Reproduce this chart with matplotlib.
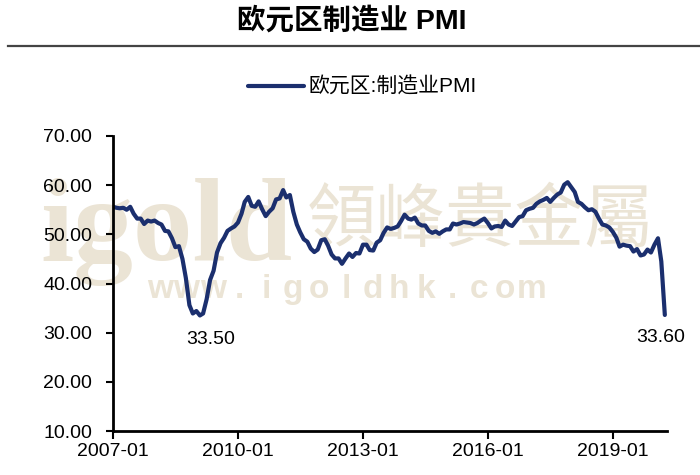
import matplotlib
matplotlib.use('Agg')
import matplotlib.pyplot as plt
import numpy as np
import pandas as pd

# Eurozone manufacturing PMI, monthly, 2007-01 .. 2020-04
pmi_2007 = [55.6, 55.4, 55.3, 55.4, 55.0, 55.6, 54.2, 53.2, 53.2, 52.1, 52.8, 52.6]
pmi_2008 = [52.8, 52.3, 52.0, 50.7, 50.6, 49.2, 47.4, 47.6, 45.0, 41.1, 35.6, 33.9]
pmi_2009 = [34.4, 33.5, 33.9, 36.8, 40.7, 42.6, 46.3, 48.2, 49.3, 50.7, 51.2, 51.6]
pmi_2010 = [52.4, 54.2, 56.6, 57.6, 55.8, 55.6, 56.7, 55.1, 53.7, 54.6, 55.3, 57.1]
pmi_2011 = [57.3, 59.0, 57.5, 58.0, 54.6, 52.0, 50.4, 49.0, 48.5, 47.1, 46.4, 46.9]
pmi_2012 = [48.8, 49.0, 47.7, 45.9, 45.1, 45.1, 44.0, 45.1, 46.1, 45.4, 46.2, 46.1]
pmi_2013 = [47.9, 47.9, 46.8, 46.7, 48.3, 48.8, 50.3, 51.4, 51.1, 51.3, 51.6, 52.7]
pmi_2014 = [54.0, 53.2, 53.0, 53.4, 52.2, 51.8, 51.8, 50.7, 50.3, 50.6, 50.1, 50.6]
pmi_2015 = [51.0, 51.0, 52.2, 52.0, 52.2, 52.5, 52.4, 52.3, 52.0, 52.3, 52.8, 53.2]
pmi_2016 = [52.3, 51.2, 51.6, 51.7, 51.5, 52.8, 52.0, 51.7, 52.6, 53.5, 53.7, 54.9]
pmi_2017 = [55.2, 55.4, 56.2, 56.7, 57.0, 57.4, 56.6, 57.4, 58.1, 58.5, 60.1, 60.6]
pmi_2018 = [59.6, 58.6, 56.6, 56.2, 55.5, 54.9, 55.1, 54.6, 53.2, 52.0, 51.8, 51.4]
pmi_2019 = [50.5, 49.3, 47.5, 47.9, 47.7, 47.6, 46.5, 47.0, 45.7, 45.9, 46.9, 46.3]
pmi_2020 = [47.9, 49.2, 44.5, 33.6]

pmi = (pmi_2007 + pmi_2008 + pmi_2009 + pmi_2010 + pmi_2011 + pmi_2012 + pmi_2013
       + pmi_2014 + pmi_2015 + pmi_2016 + pmi_2017 + pmi_2018 + pmi_2019 + pmi_2020)
months = pd.date_range('2007-01-01', periods=len(pmi), freq='MS')

x_ticks = ['2007-01', '2010-01', '2013-01', '2016-01', '2019-01']
y_ticks = [10, 20, 30, 40, 50, 60, 70]

title = '欧元区制造业 PMI'
series_name = '欧元区:制造业PMI'

line_color = '#1b2f6e'
mark_color = '#ebe4d5'
cn_fonts = ['Liberation Sans', 'Noto Sans CJK SC']

plt.rcParams['font.family'] = cn_fonts

fig = plt.figure(figsize=(7, 4.75), dpi=100)
ax = fig.add_axes([113 / 700, 1 - 431 / 475, (667 - 113) / 700, (431 - 136) / 475])

# title and rule
fig.text(352 / 700, 1 - 21 / 475, title, ha='center', va='center',
         fontsize=20.5, fontweight='bold', family=cn_fonts)
fig.add_artist(plt.Line2D([8 / 700, 1.0], [1 - 45.7 / 475] * 2,
                          transform=fig.transFigure, color='#444444', lw=1.6))

# watermark
ax.text(40 / 700, 1 - 260 / 475, 'igold', transform=fig.transFigure, ha='left',
        va='baseline', fontsize=86, fontweight='bold', family='Liberation Serif',
        color=mark_color, zorder=0.5)
ax.text(307 / 700, 1 - 221 / 475, '領峰貴金屬', transform=fig.transFigure, ha='left',
        va='center', fontsize=50, family='Noto Sans CJK TC',
        color=mark_color, zorder=0.5)
url = 'www.igoldhk.com'
for cx, ch in zip(np.linspace(160, 532, len(url)), url):
    ax.text(cx / 700, 1 - 298 / 475, ch, transform=fig.transFigure, ha='center',
            va='baseline', fontsize=24, fontweight='bold', family='Liberation Sans',
            color=mark_color, zorder=0.5)

ax.patch.set_alpha(0)
ax.plot(months, pmi, color=line_color, lw=3, label=series_name, zorder=2,
        solid_capstyle='round', solid_joinstyle='round')

ax.set_ylim(10, 70)
ax.set_yticks(y_ticks)
ax.set_yticklabels([f'{v:.2f}' for v in y_ticks])
ax.set_xlim(pd.Timestamp('2007-01-01'), pd.Timestamp('2020-04-20'))
ax.set_xticks(pd.to_datetime(x_ticks))
ax.set_xticklabels(x_ticks)

for side in ['top', 'right']:
    ax.spines[side].set_visible(False)
for side in ['left', 'bottom']:
    ax.spines[side].set_linewidth(2)
ax.tick_params(axis='y', direction='out', length=5, width=1.5, labelsize=14, pad=10)
ax.tick_params(axis='x', direction='out', length=6, width=1.5, labelsize=14, pad=3)

# low points
low_idx = int(np.argmin(pmi[:36]))
ax.annotate(f'{pmi[low_idx]:.2f}', xy=(months[low_idx], pmi[low_idx]),
            xytext=(8, -17), textcoords='offset points', ha='center', va='center',
            fontsize=14)
ax.annotate(f'{pmi[-1]:.2f}', xy=(months[-1], pmi[-1]),
            xytext=(-3, -16), textcoords='offset points', ha='center', va='center',
            fontsize=14)

fig.legend(loc='center', bbox_to_anchor=(362 / 700, 1 - 87 / 475), frameon=False,
           fontsize=15, handlelength=2.7, handletextpad=0.2)

fig.savefig('out.png', dpi=100)
